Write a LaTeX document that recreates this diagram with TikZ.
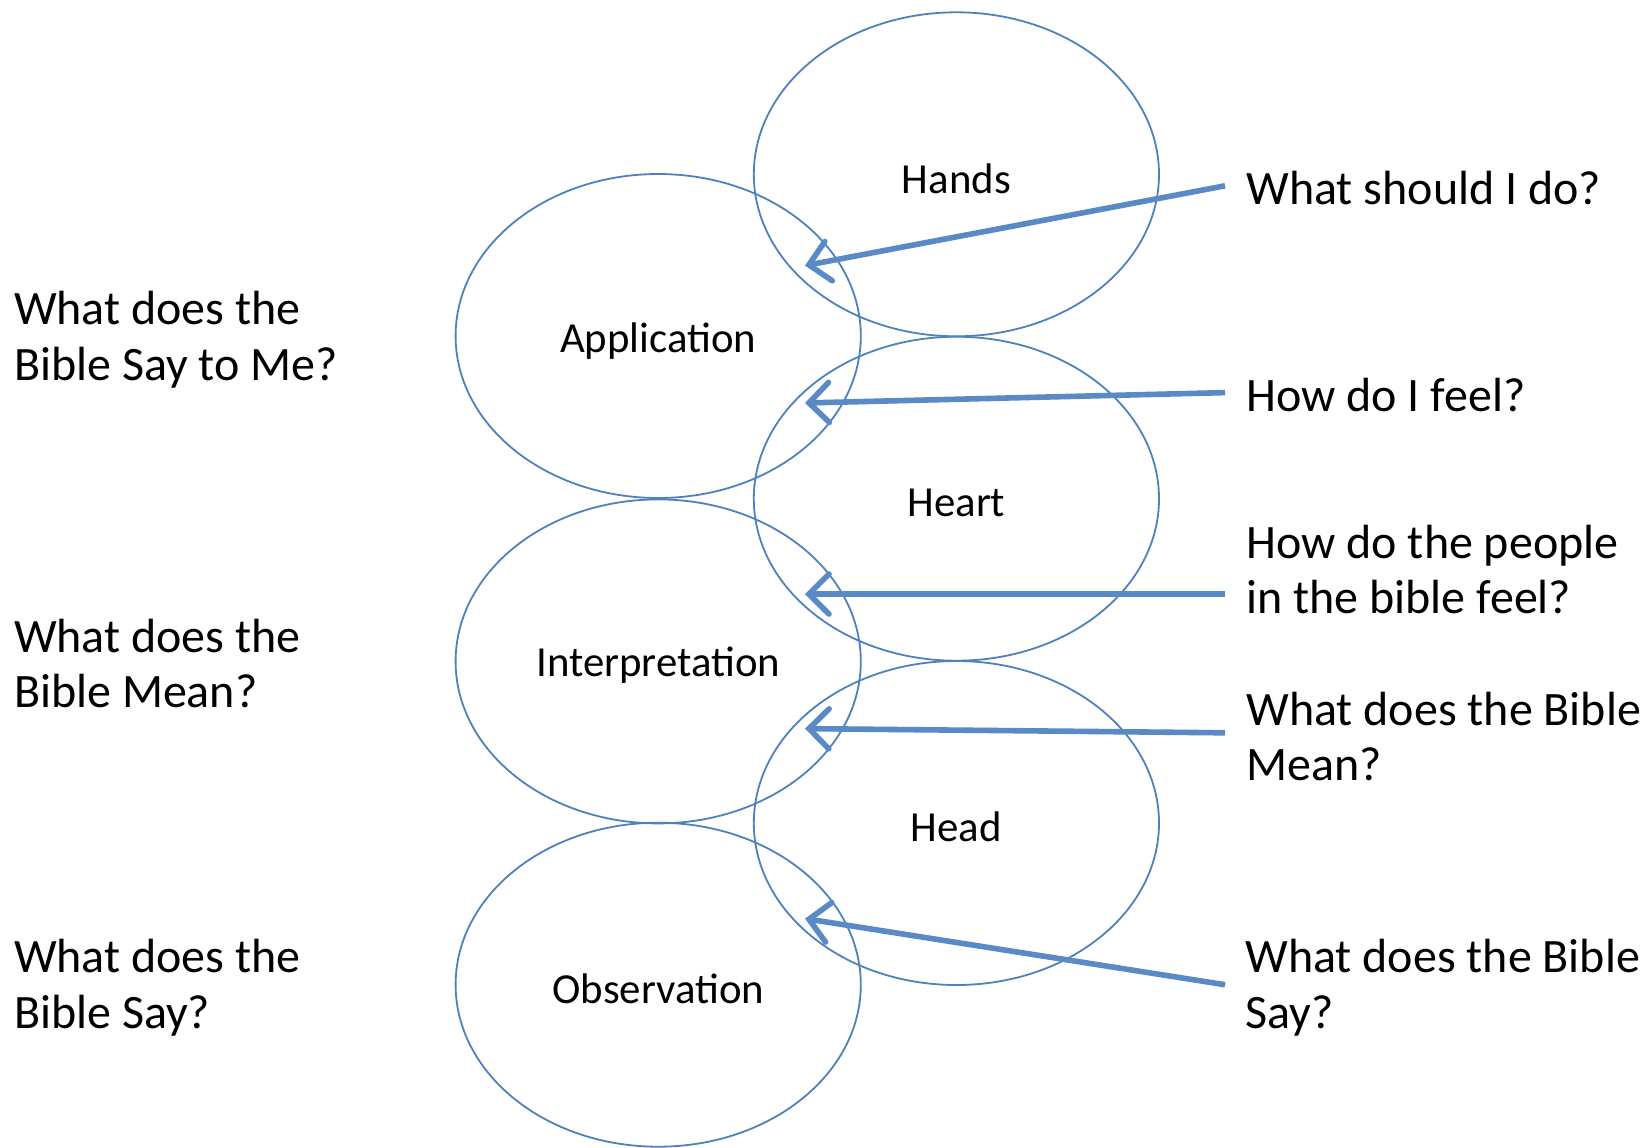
\documentclass[tikz,border=0pt]{standalone}
\usepackage{fontspec}
\setmainfont{Carlito}
\usetikzlibrary{arrows.meta,shapes.geometric}
\definecolor{ringblue}{HTML}{4F81BD}
\definecolor{arrowblue}{HTML}{5A8AC6}
\tikzset{
  ring/.style={draw=ringblue, line width=0.9pt, ellipse, minimum width=202.6pt, minimum height=162pt, inner sep=0pt},
  ringlabel/.style={font=\fontsize{21.4}{25}\selectfont, text=black},
  question/.style={font=\fontsize{24}{27.8}\selectfont, align=left, anchor=west, inner sep=0pt, text=black},
  pointer/.style={draw=arrowblue, line width=2.8pt, -{Straight Barb[length=10pt, width=20pt, line width=2.8pt, line cap=round]}},
}
\begin{document}
\begin{tikzpicture}[x=0.5pt, y=-0.5pt]
\useasboundingbox (0,0) rectangle (1643,1147);
\fill[white] (0,0) rectangle (1643,1147);
% ellipses
\node[ring] (hands) at (956.4,174.3) {};
\node[ring] (appl) at (658.2,336) {};
\node[ring] (heart) at (956.4,498.7) {};
\node[ring] (interp) at (658.2,661.4) {};
\node[ring] (head) at (956.4,823) {};
\node[ring] (obs) at (658.2,984.7) {};
% ring labels
\node[ringlabel] (lhands) at (956.4,178.5) {Hands};
\node[ringlabel] (lappl) at (658.2,341) {Application};
\node[ringlabel] (lheart) at (956.4,503) {Heart};
\node[ringlabel] (linterp) at (658.2,665.6) {Interpretation};
\node[ringlabel] (lhead) at (956.4,827) {Head};
\node[ringlabel] (lobs) at (658.2,989) {Observation};
% left questions
\node[question] (q1) at (13.6,339.6) {What does the\\Bible Say to Me?};
\node[question] (q2) at (13.6,663.5) {What does the\\Bible Mean?};
\node[question] (q3) at (13.6,987.7) {What does the\\Bible Say?};
% right questions
\node[question] (r1) at (1246,188) {What should I do?};
\node[question] (r2) at (1246,394.7) {How do I feel?};
\node[question] (r3) at (1246,569.3) {How do the people\\in the bible feel?};
\node[question] (r4) at (1246,736.3) {What does the Bible\\Mean?};
\node[question] (r5) at (1245,987.7) {What does the Bible\\Say?};
% arrow coordinates
\coordinate (s1) at (1225,185.8); \coordinate (t1) at (805,265.6);
\coordinate (s2) at (1225,392.6); \coordinate (t2) at (805,403);
\coordinate (s3) at (1225,594);   \coordinate (t3) at (805,594);
\coordinate (s4) at (1225,732.8); \coordinate (t4) at (805,728.6);
\coordinate (s5) at (1225,984.7); \coordinate (t5) at (805,918.6);
\draw[pointer] (s1) -- (t1);
\draw[pointer] (s2) -- (t2);
\draw[pointer] (s3) -- (t3);
\draw[pointer] (s4) -- (t4);
\draw[pointer] (s5) -- (t5);
\end{tikzpicture}
\end{document}
